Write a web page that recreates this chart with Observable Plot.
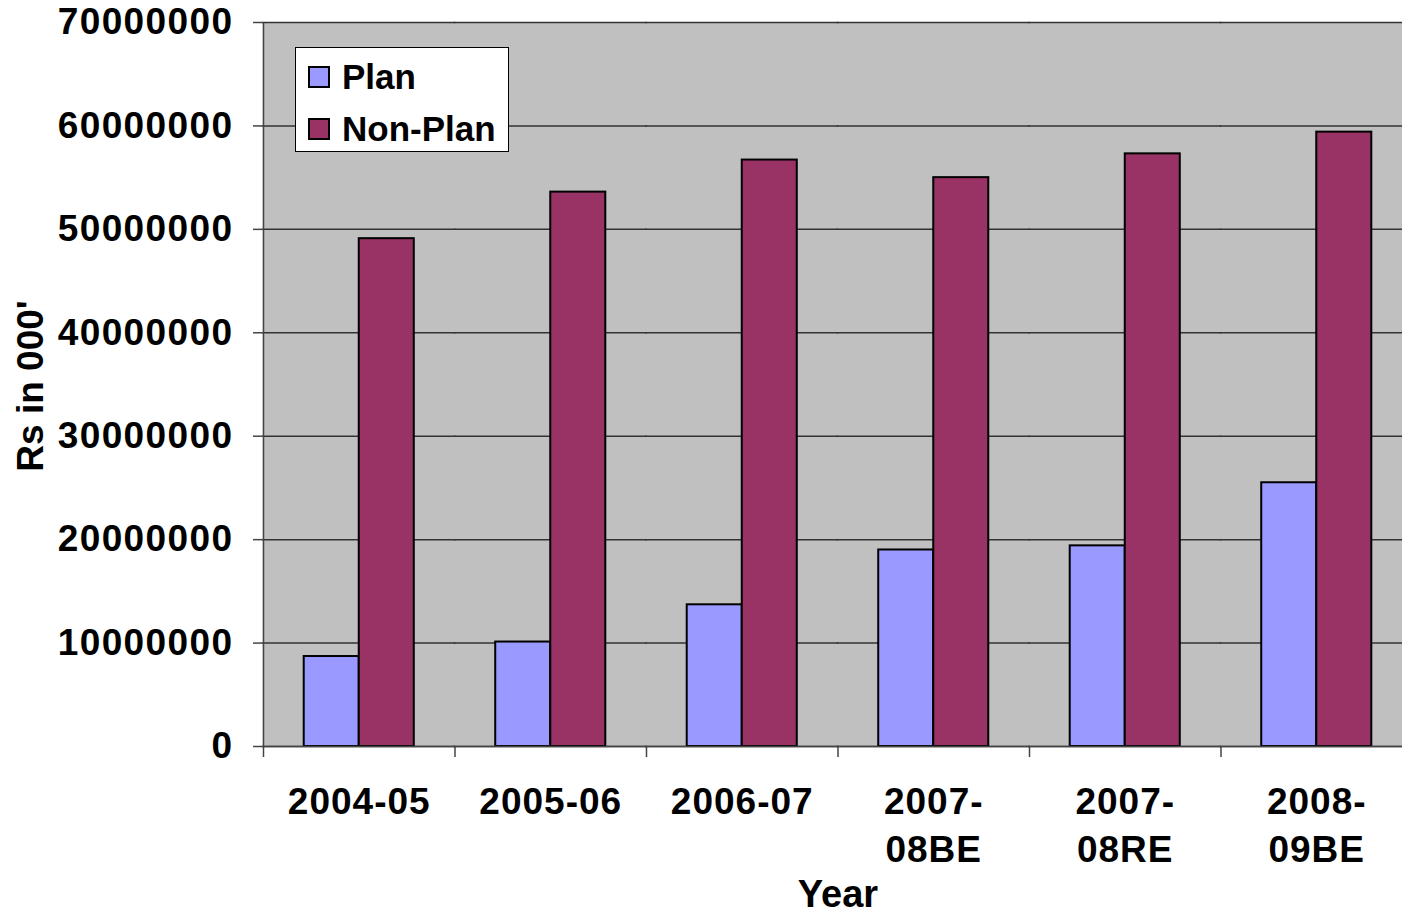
<!DOCTYPE html>
<html><head><meta charset="utf-8">
<script src="https://cdn.jsdelivr.net/npm/d3@7"></script>
<script src="https://cdn.jsdelivr.net/npm/@observablehq/plot@0.6"></script>
<style>
body{margin:0;background:#fff;font-family:"Liberation Sans",Arial,sans-serif;}
#wrap{position:relative;width:1402px;height:917px;overflow:hidden;}
#wrap svg{position:absolute;left:0;top:0;}
[aria-label="y-axis tick label"] text{letter-spacing:1.4px;}
[aria-label="fx-axis tick label"] text{letter-spacing:1px;}
.ttl{position:absolute;font-weight:bold;font-size:37px;color:#000;white-space:nowrap;line-height:1;}
#ytitle{left:30px;top:386px;transform:translate(-50%,-50%) rotate(-90deg);}
#xtitle{left:838px;top:873px;font-size:38px;line-height:1.117;transform:translateX(-50%);}
#legend{position:absolute;left:295px;top:47px;width:212px;height:103px;background:#fff;border:1px solid #000;}
.lrow{position:absolute;left:12px;display:flex;align-items:center;font-weight:bold;font-size:35px;line-height:1;}
.sw{width:18px;height:18px;border:2px solid #000;margin-right:12px;}
</style></head><body><div id="wrap"></div>
<script>
const years = ["2004-05","2005-06","2006-07","2007-08BE","2007-08RE","2008-09BE"];
const yearLabels = ["2004-05","2005-06","2006-07","2007-\n08BE","2007-\n08RE","2008-\n09BE"];
const series = ["Plan","Non-Plan"];
const seriesColors = ["#9999ff","#993366"];
const planValues = [8700000, 10100000, 13700000, 19000000, 19400000, 25500000];
const nonPlanValues = [49100000, 53600000, 56700000, 55000000, 57300000, 59400000];
const yTicks = [0,10000000,20000000,30000000,40000000,50000000,60000000,70000000];

const data = years.flatMap((y,i)=>[
  {year:y, series:"Plan", value:planValues[i]},
  {year:y, series:"Non-Plan", value:nonPlanValues[i]}
]);

const W=1402,H=917,mL=263,mR=-10,mT=22,mB=171;
const fxStep=(W-mL-mR)/years.length;
const po=0.74;
const xStep=fxStep/(2+2*po);
const leftOff=(po+0.5)*xStep;

const chart = Plot.plot({
  width:W, height:H, marginLeft:mL, marginRight:mR, marginTop:mT, marginBottom:mB,
  style:{fontFamily:"'Liberation Sans', Arial, sans-serif", fontWeight:"bold", fontSize:"37px", color:"#000", background:"transparent", overflow:"visible"},
  fx:{domain:years, padding:0, round:false, label:null, axis:null},
  x:{domain:series, paddingInner:0, paddingOuter:po, round:false, axis:null},
  y:{domain:[0,70000000], axis:null},
  color:{domain:series, range:seriesColors},
  marks:[
    Plot.frame({fill:"#c0c0c0", stroke:"none", insetLeft:-0.75, insetRight:-0.75}),
    Plot.gridY(yTicks,{stroke:"#333", strokeOpacity:1, strokeWidth:1.5, insetLeft:-0.75, insetRight:-0.75}),
    Plot.barY(data,{fx:"year", x:"series", y:"value", fill:"series", stroke:"#000", strokeWidth:2, inset:0}),
    Plot.ruleY([0],{stroke:"#444", strokeWidth:1.5, insetLeft:-0.75, insetRight:-0.75}),
    Plot.ruleX([years[0]],{fx:d=>d, x:()=>"Plan", y1:0, y2:70000000, dx:-leftOff, stroke:"#444", strokeWidth:1.5}),
    Plot.axisY(yTicks,{tickSize:10, tickPadding:20, tickFormat:d3.format("d"), stroke:"#444", strokeWidth:1.5, label:null, fontSize:37, fontWeight:"bold"}),
    Plot.axisFx({anchor:"bottom", tickSize:0, tickPadding:33, tickFormat:d=>yearLabels[years.indexOf(d)], label:null, lineHeight:1.3, fontSize:37, fontWeight:"bold"}),
    Plot.axisFx({anchor:"bottom", tickSize:11, text:null, dx:-fxStep/2, label:null, stroke:"#444", strokeWidth:1.5})
  ]
});
const wrap=document.getElementById("wrap");
wrap.appendChild(chart);

const yt=document.createElement("div");yt.className="ttl";yt.id="ytitle";yt.textContent="Rs in 000'";wrap.appendChild(yt);
const xt=document.createElement("div");xt.className="ttl";xt.id="xtitle";xt.textContent="Year";wrap.appendChild(xt);
const lg=document.createElement("div");lg.id="legend";
series.forEach((s,i)=>{
  const r=document.createElement("div");r.className="lrow";r.style.top=(i===0?11:63)+"px";
  const sw=document.createElement("div");sw.className="sw";sw.style.background=seriesColors[i];
  const t=document.createElement("span");t.textContent=s;
  r.appendChild(sw);r.appendChild(t);lg.appendChild(r);
});
wrap.appendChild(lg);
</script></body></html>
